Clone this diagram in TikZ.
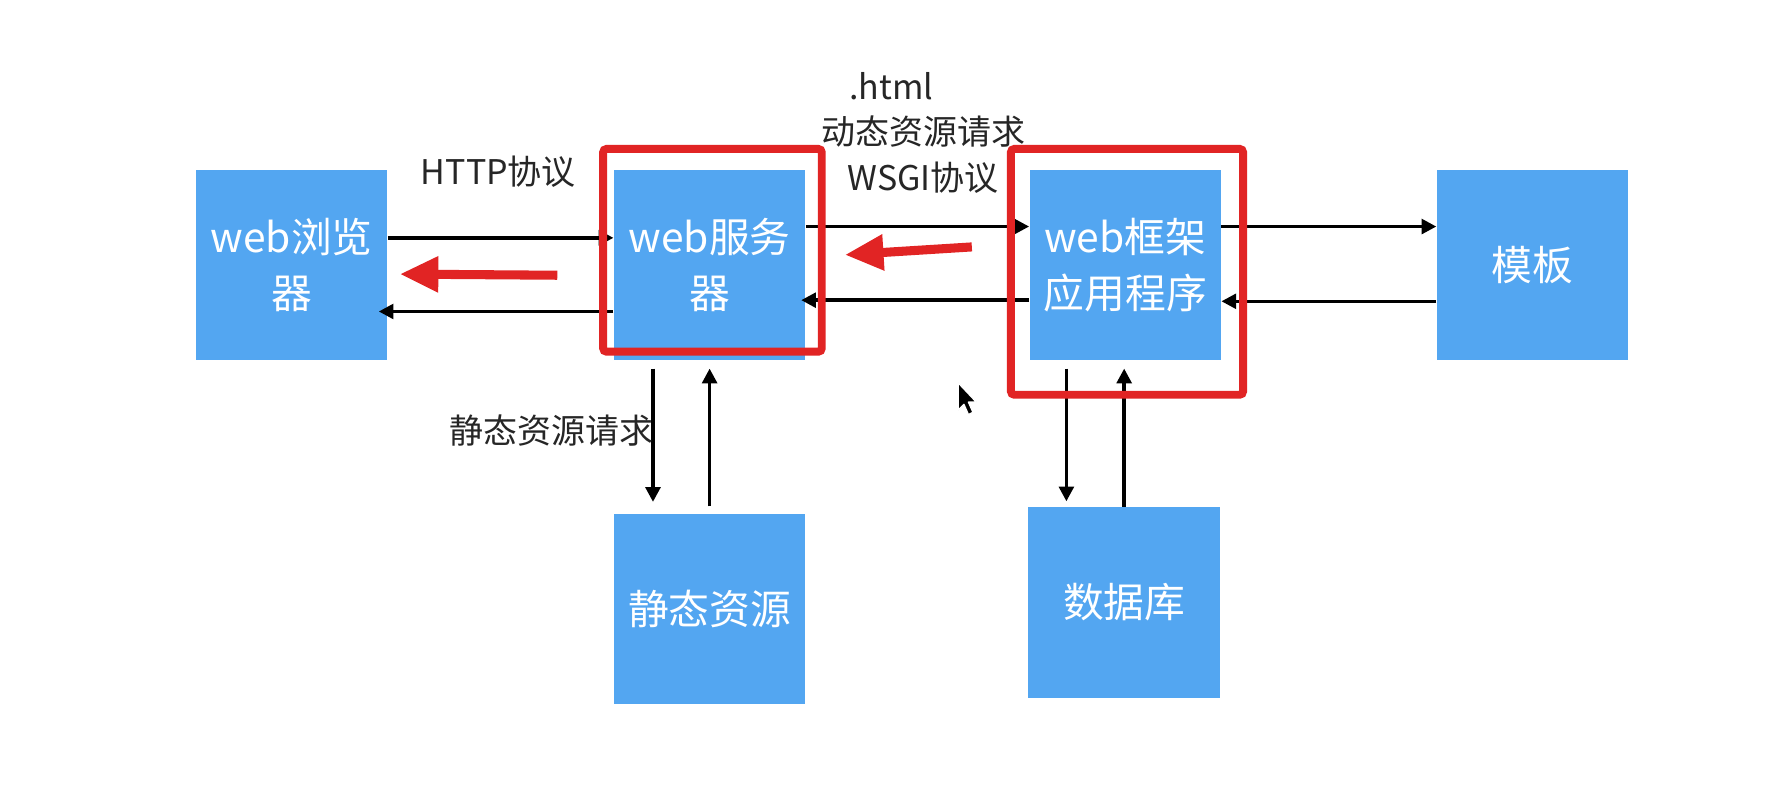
\documentclass[tikz,border=0pt]{standalone}
\usepackage{fontspec}
\setmainfont{Noto Sans CJK SC}
\usetikzlibrary{arrows.meta}
\definecolor{boxblue}{HTML}{53A6F1}
\definecolor{markred}{HTML}{E12424}
\tikzset{
  box/.style={fill=boxblue, draw=none, minimum width=84.5pt, minimum height=84pt, inner sep=0pt,
    text=white, align=center, font=\fontsize{18}{25}\selectfont},
  lbl/.style={text=black!85, font=\fontsize{15}{18}\selectfont, inner sep=0pt},
  arr/.style={draw=black, line width=1.5pt, -{Triangle[length=6.5pt,width=6.5pt]}},
  redframe/.style={draw=markred, line width=3.5pt, rounded corners=1.5pt, inner sep=0pt},
  redarrow/.style={draw=markred, line width=4pt, -{Triangle[length=17pt,width=15pt]}},
}
\begin{document}
\begin{tikzpicture}[x=0.5pt,y=-0.5pt]
\useasboundingbox (0,0) rectangle (1568,706);
\fill[white] (0,0) rectangle (1568,706);

% boxes
\node[box] (browser)   at (257.5,234) {web浏览\\器};
\node[box] (server)    at (626.5,234) {web服务\\器};
\node[box] (framework) at (993.5,234) {web框架\\应用程序};
\node[box] (tmpl)      at (1353,234)  {模板};
\node[box] (staticres) at (626.5,537.5) {静态资源};
\node[box] (db)        at (992.5,532) {数据库};

% horizontal connectors
\draw[arr] ([yshift=12pt]browser.east) -- ([yshift=12pt]server.west);
\draw[arr] ([yshift=-20.5pt]server.west) -- ([yshift=-20.5pt,xshift=-4pt]browser.east);
\draw[arr] ([yshift=17pt]server.east) -- ([yshift=17pt]framework.west);
\draw[arr] ([yshift=-15.5pt]framework.west) -- ([yshift=-15.5pt,xshift=-2pt]server.east);
\draw[arr] ([yshift=17pt]framework.east) -- ([yshift=17pt]tmpl.west);
\draw[arr] ([yshift=-16pt]tmpl.west) -- ([yshift=-16pt]framework.east);

% vertical connectors
\draw[arr, shorten <=3.5pt, shorten >=5pt] ([xshift=-25pt]server.south) -- ([xshift=-25pt]staticres.north);
\draw[arr, shorten <=3pt, shorten >=3.5pt] (staticres.north) -- (server.south);
\draw[arr, shorten <=3.5pt, shorten >=2.5pt] ([xshift=-26pt]framework.south) -- ([xshift=-26pt]framework.south |- db.north);
\draw[arr, shorten >=3.5pt] (db.north) -- (db.north |- framework.south);

% labels
\node[lbl] (httplbl) at (440,152) {HTTP协议};
\node[lbl] (htmllbl) at (787,76) {.html};
\node[lbl] (dynlbl)  at (815,116) {动态资源请求};
\node[lbl] (wsgilbl) at (815,157) {WSGI协议};
\node[lbl] (statlbl) at (487,380) {静态资源请求};

% red highlight frames
\node[redframe, minimum width=96.5pt, minimum height=89.5pt] (serverframe) at (629,221) {};
\node[redframe, minimum width=102.5pt, minimum height=108.5pt] (frameworkframe) at (995,240) {};

% red arrows
\coordinate (r1s) at (492,243);
\coordinate (r1e) at (353,242);
\coordinate (r2s) at (858,218);
\coordinate (r2e) at (746,225);
\draw[redarrow] (r1s) -- (r1e);
\draw[redarrow] (r2s) -- (r2e);

% mouse cursor
\filldraw[fill=black, draw=white, line width=0.6pt, line join=round]
  (846,338) -- (846,362) -- (851,357) -- (855,366) -- (859,364) -- (855,355) -- (862,355) -- cycle;
\end{tikzpicture}
\end{document}
